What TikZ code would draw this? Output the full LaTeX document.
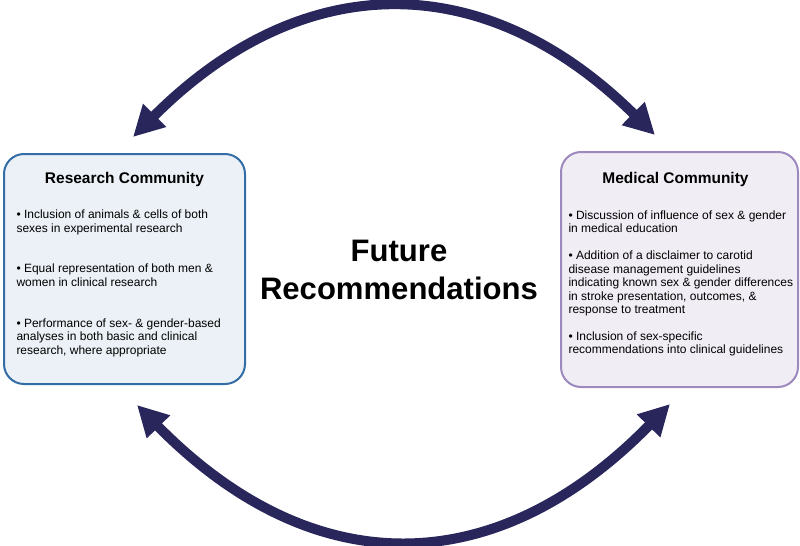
\documentclass[tikz,border=0pt]{standalone}
\usepackage{fontspec}
\setmainfont{Liberation Sans}
\usetikzlibrary{arrows.meta}

\definecolor{navyarc}{RGB}{40,38,90}
\definecolor{resline}{RGB}{52,108,165}
\definecolor{resfill}{RGB}{235,241,246}
\definecolor{medline}{RGB}{156,137,190}
\definecolor{medfill}{RGB}{240,237,244}

\tikzset{every picture/.style={line width=0.75pt},
  flowarc/.style={color=navyarc, line width=7.5pt,
    {Triangle[length=23pt,width=23pt]}-{Triangle[length=23pt,width=23pt]}},
  resbox/.style={draw=resline, fill=resfill, line width=1.5pt, rounded corners=15pt},
  medbox/.style={draw=medline, fill=medfill, line width=1.5pt, rounded corners=15pt},
  header/.style={font=\fontsize{11.6}{14}\selectfont\bfseries, inner sep=0pt, anchor=base},
  item/.style={font=\fontsize{9}{10.1}\selectfont, align=left, inner sep=0pt, anchor=north west},
  bigtitle/.style={font=\fontsize{23.3}{28.5}\selectfont\bfseries, align=center, inner sep=0pt, anchor=north}
}

\begin{document}
\begin{tikzpicture}[x=0.75pt,y=0.75pt,yscale=-1,xscale=1]
\useasboundingbox (0,0) rectangle (800,546); %set diagram 800 x 546

%Shape: Rounded Rect [id:research]
\draw[resbox] (4,154) rectangle (245,384);
%Shape: Rounded Rect [id:medical]
\draw[medbox] (561,152) rectangle (798,387);

% Arrow ends
\coordinate (topL) at (133,137);
\coordinate (topR) at (655,135);
\coordinate (botL) at (137,405);
\coordinate (botR) at (670,404);

%Curve Lines [id:toparc]
\draw[flowarc] (topL) .. controls (303,-33) and (485,-33) .. (topR);
%Curve Lines [id:botarc]
\draw[flowarc] (botL) .. controls (312,583) and (495,583) .. (botR);

% Text Node
\node[header] (resHead) at (124.5,183) {Research Community};
% Text Node
\node[item] (res1) at (16,209.5) {• Inclusion of animals \& cells of both\\sexes in experimental research};
% Text Node
\node[item] (res2) at (16,263.5) {• Equal representation of both men \&\\women in clinical research};
% Text Node
\node[item] (res3) at (16,318) {• Performance of sex- \& gender-based\\analyses in both basic and clinical\\research, where appropriate};

% Text Node
\node[header] (medHead) at (675.5,183) {Medical Community};
% Text Node
\node[item] (med1) at (568,210.2) {• Discussion of influence of sex \& gender\\in medical education};
% Text Node
\node[item] (med2) at (568,250.5) {• Addition of a disclaimer to carotid\\disease management guidelines\\indicating known sex \& gender differences\\in stroke presentation, outcomes, \&\\response to treatment};
% Text Node
\node[item] (med3) at (568,331) {• Inclusion of sex-specific\\recommendations into clinical guidelines};

% Text Node
\node[bigtitle] (future) at (399,239.8) {Future\\Recommendations};

\end{tikzpicture}
\end{document}
